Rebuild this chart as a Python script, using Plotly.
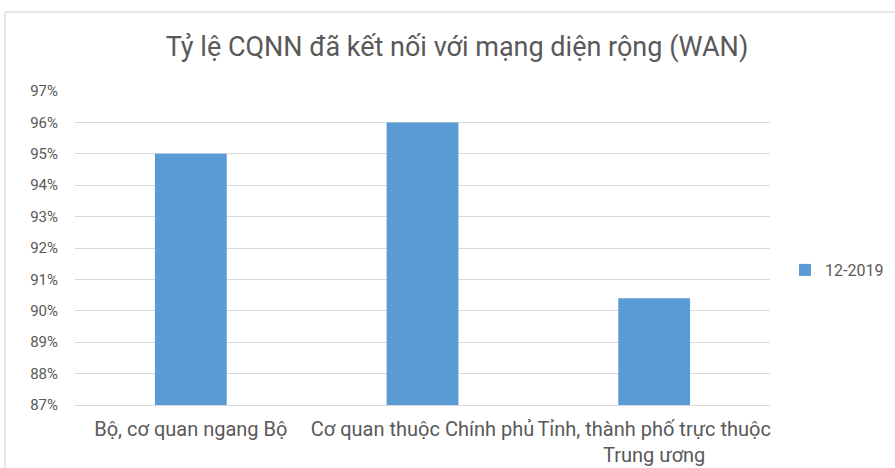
import plotly.graph_objects as go

categories = ["Bộ, cơ quan ngang Bộ", "Cơ quan thuộc Chính phủ", "Tỉnh, thành phố trực thuộc<br>Trung ương"]
series_name = "12-2019"
values = [95.0, 96.0, 90.4]
y_ticks = list(range(87, 98))
y_tick_labels = [f"{v}%" for v in y_ticks]

FONT = "Roboto, sans-serif"
GREY = "#595959"

fig = go.Figure()
fig.add_trace(go.Bar(
    x=categories, y=values, name=series_name,
    marker=dict(color="#5b9bd5", line=dict(width=0)),
    width=0.31, showlegend=True,
))

L, R, T, B = 75, 125, 91, 63
W, H = 895, 468
pw, ph = W - L - R, H - T - B

fig.update_layout(
    width=W, height=H,
    margin=dict(l=L, r=R, t=T, b=B, autoexpand=False),
    paper_bgcolor="white", plot_bgcolor="white",
    title=dict(text="Tỷ lệ CQNN đã kết nối với mạng diện rộng (WAN)",
               x=457 / W, xanchor="center", y=1 - 47 / H, yanchor="middle",
               font=dict(family=FONT, size=27, color=GREY)),
    font=dict(family=FONT, color=GREY),
    showlegend=True,
    legend=dict(x=(785 - L) / pw, xanchor="left", y=(H - B - 270) / ph, yanchor="middle",
                font=dict(size=16, color=GREY), bgcolor="rgba(0,0,0,0)"),
)
fig.update_yaxes(range=[87, 97], tickvals=y_ticks, ticktext=y_tick_labels,
                 showgrid=True, gridcolor="#d9d9d9", gridwidth=1,
                 zeroline=False, showline=False, automargin=False,
                 tickfont=dict(size=15, color=GREY), ticks="", ticklabelstandoff=16)
fig.update_xaxes(showline=True, linecolor="#d9d9d9", linewidth=1, automargin=False,
                 tickfont=dict(size=20, color=GREY), ticks="", ticklabelstandoff=6)

# outer chart border (top and left visible in reference)
x0 = (5 - L) / pw
x1 = (W + 5 - L) / pw
ytop = (H - B - 12) / ph
ybot = (H - B - H - 5) / ph
fig.add_shape(type="line", xref="paper", yref="paper", x0=x0, x1=x1, y0=ytop, y1=ytop,
              line=dict(color="#cfcfcf", width=1), layer="above")
fig.add_shape(type="line", xref="paper", yref="paper", x0=x0, x1=x0, y0=ybot, y1=ytop,
              line=dict(color="#cfcfcf", width=1), layer="above")

fig.write_html("out.html", config={"displayModeBar": False},
               post_script="document.body.style.margin='0';document.body.style.overflow='hidden';")
